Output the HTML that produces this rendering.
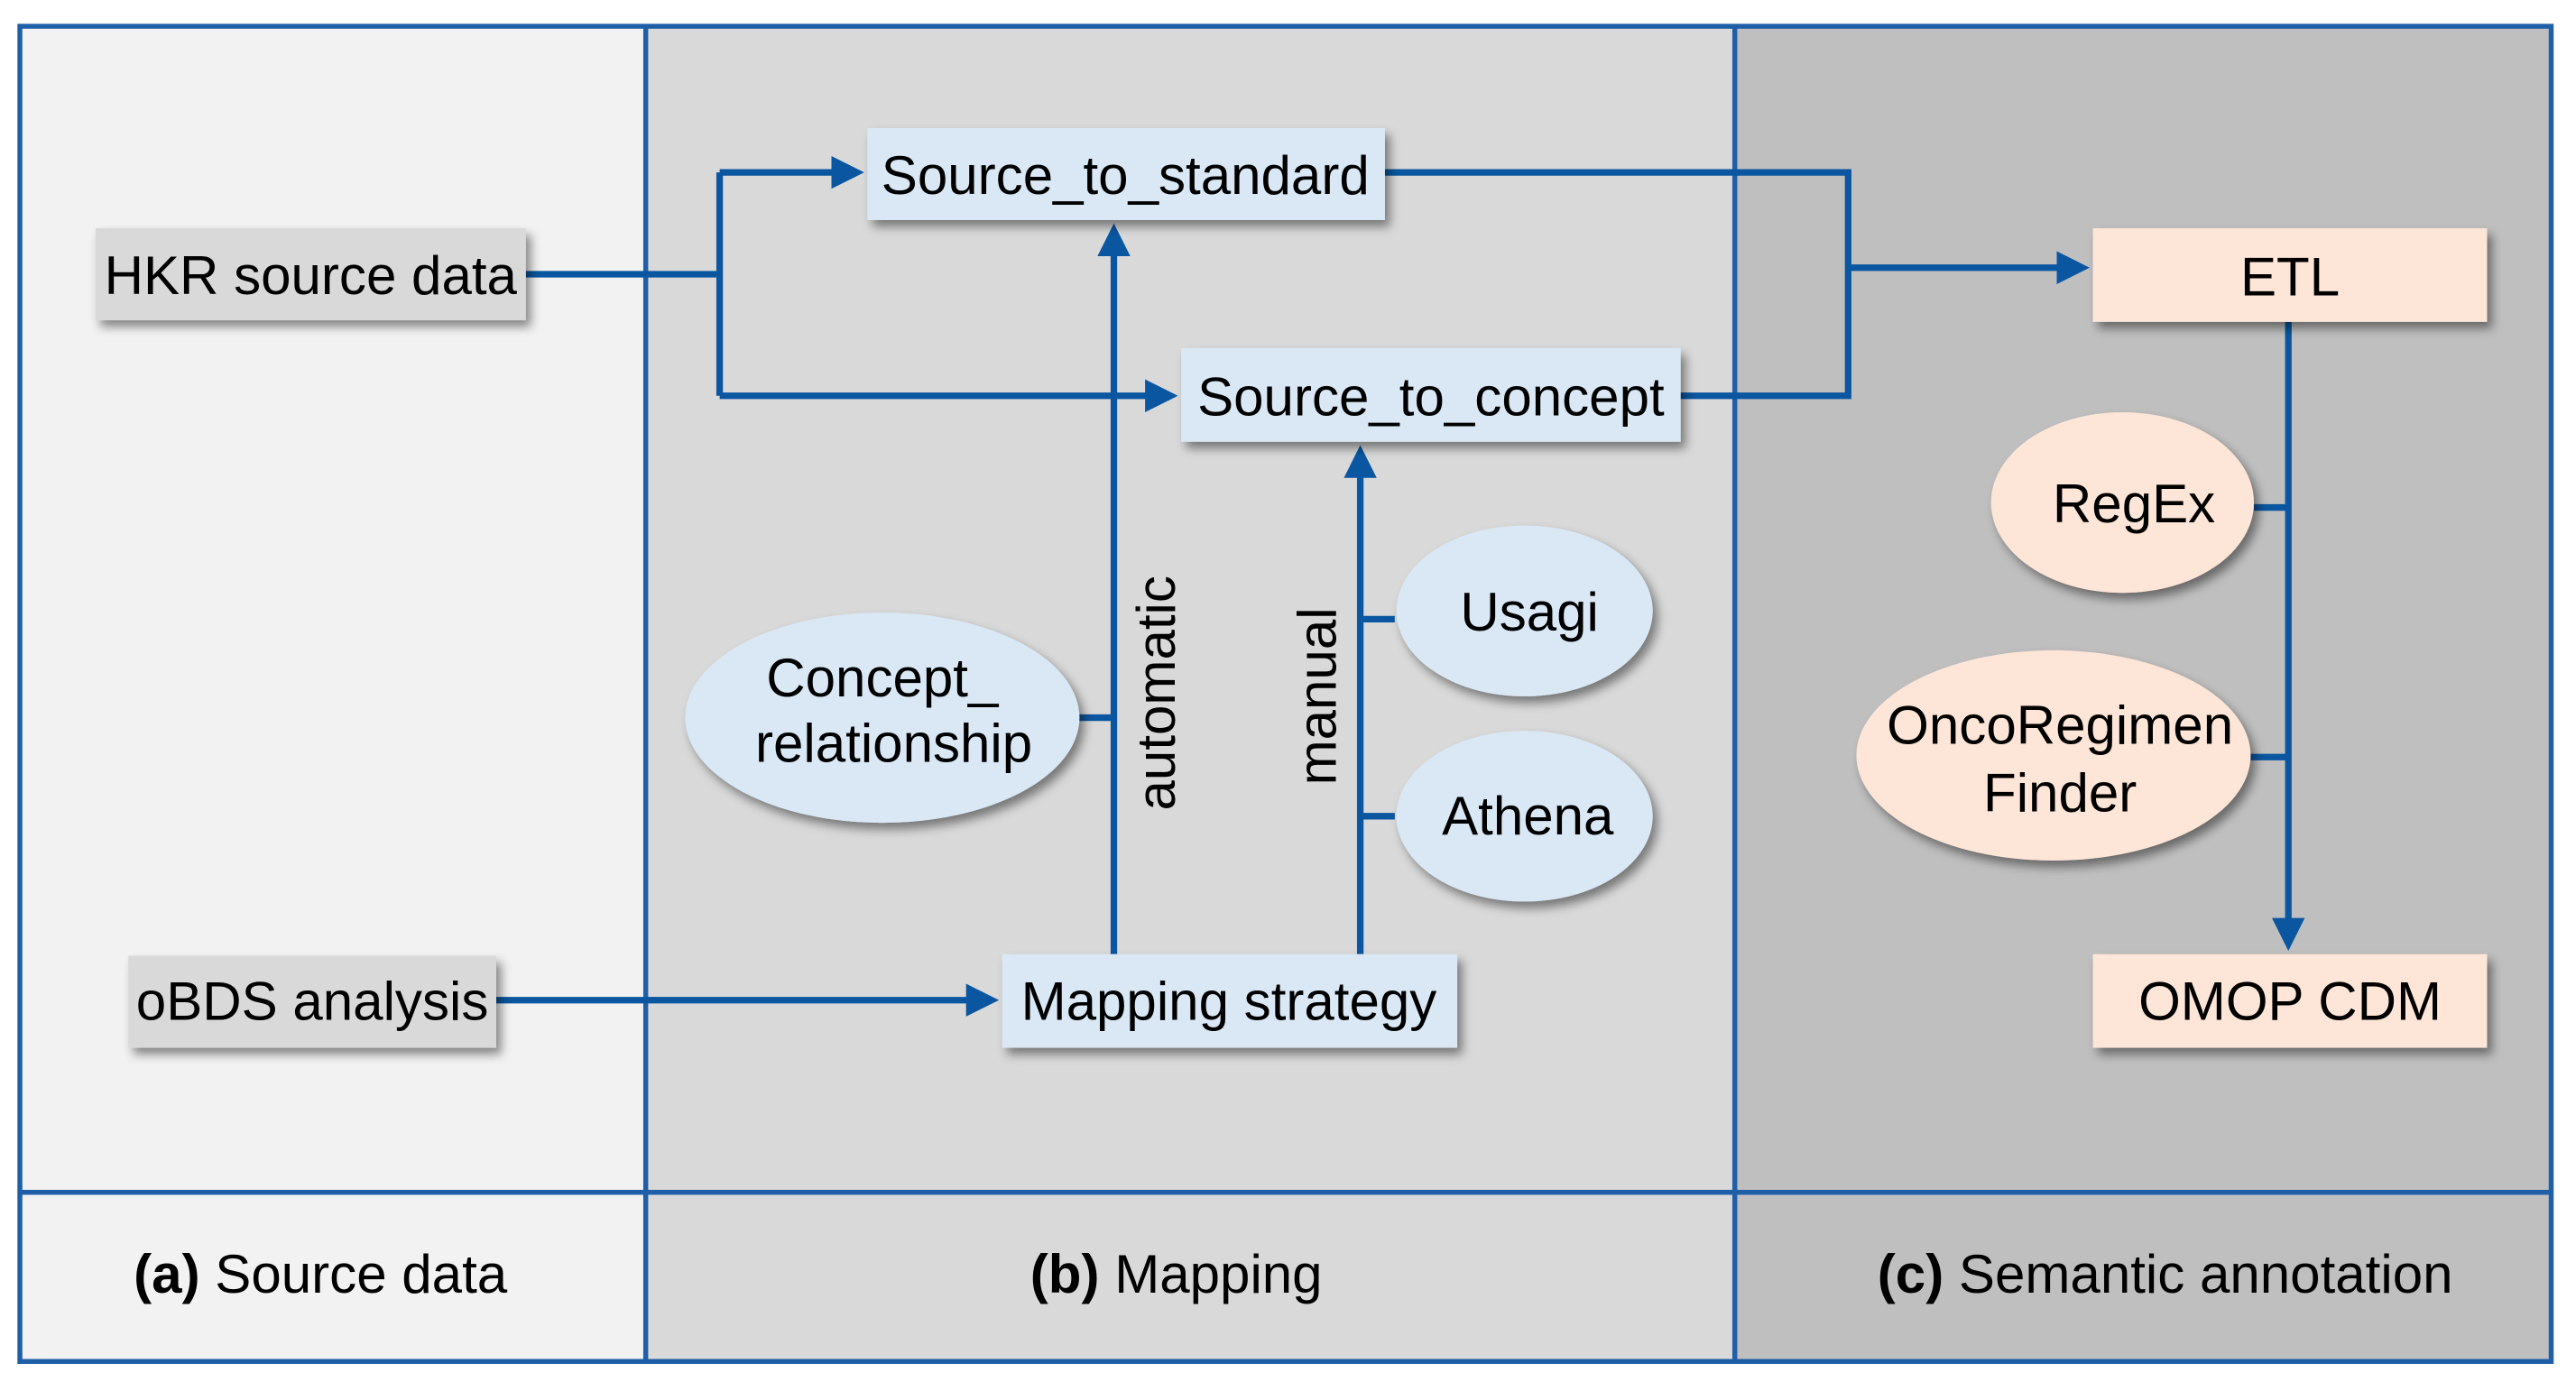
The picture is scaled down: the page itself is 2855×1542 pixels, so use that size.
<!DOCTYPE html>
<html><head><meta charset="utf-8"><style>
html,body{margin:0;padding:0;background:#fff;}
svg{display:block;}
text{font-family:"Liberation Sans",Arial,sans-serif;fill:#000;}
</style></head><body>
<svg width="2855" height="1542" viewBox="0 0 1568 847" xmlns="http://www.w3.org/2000/svg">
<defs>
<filter id="sh" x="-20%" y="-20%" width="150%" height="160%">
<feDropShadow dx="3" dy="4" stdDeviation="3" flood-color="#000" flood-opacity="0.45"/>
</filter>
<marker id="ar" markerWidth="5" markerHeight="5" refX="4" refY="2.5" orient="auto" markerUnits="strokeWidth">
<path d="M0,0 L5,2.5 L0,5 z" fill="#0a56a0"/>
</marker>
</defs>
<rect x="0" y="0" width="1568" height="847" fill="#fff"/>
<rect x="12" y="16" width="381" height="813" fill="#f2f2f2"/>
<rect x="393" y="16" width="663" height="813" fill="#d9d9d9"/>
<rect x="1056" y="16" width="497" height="813" fill="#bfbfbf"/>
<g stroke="#1f5fa8" stroke-width="3" fill="none">
<rect x="12" y="16" width="1541" height="813"/>
<line x1="393" y1="16" x2="393" y2="829"/>
<line x1="1056" y1="16" x2="1056" y2="829"/>
<line x1="12" y1="726" x2="1553" y2="726"/>
</g>

<g stroke="#0a56a0" stroke-width="4" fill="none">
<polyline points="320,167 438,167"/>
<polyline points="438,105 438,241"/>
<polyline points="438,105 522,105" marker-end="url(#ar)"/>
<polyline points="438,241 713,241" marker-end="url(#ar)"/>
<polyline points="843,105 1125,105 1125,241 1023,241"/>
<polyline points="1125,163 1268,163" marker-end="url(#ar)"/>
<polyline points="1393,196 1393,575" marker-end="url(#ar)"/>
<polyline points="1372,309 1393,309"/>
<polyline points="1370,461 1393,461"/>
<polyline points="302,609 604,609" marker-end="url(#ar)"/>
<polyline points="678,581 678,140" marker-end="url(#ar)"/>
<polyline points="828,581 828,275" marker-end="url(#ar)"/>
<polyline points="657,437 678,437"/>
<polyline points="849,377 828,377"/>
<polyline points="849,497 828,497"/>
</g>

<g filter="url(#sh)">
<rect x="58" y="139" width="262" height="56" fill="#d9d9d9"/>
<rect x="78" y="582" width="224" height="56" fill="#d9d9d9"/>
<rect x="528" y="78" width="315" height="56" fill="#dae8f5"/>
<rect x="719" y="212" width="304" height="57" fill="#dae8f5"/>
<rect x="610" y="581" width="277" height="57" fill="#dae8f5"/>
<rect x="1274" y="139" width="240" height="57" fill="#fde5d7"/>
<rect x="1274" y="581" width="240" height="57" fill="#fde5d7"/>
<ellipse cx="537" cy="437" rx="120" ry="64" fill="#dae8f5"/>
<ellipse cx="928" cy="372" rx="78" ry="52" fill="#dae8f5"/>
<ellipse cx="928" cy="497" rx="78" ry="52" fill="#dae8f5"/>
<ellipse cx="1292" cy="306" rx="80" ry="55" fill="#fde5d7"/>
<ellipse cx="1250" cy="460" rx="120" ry="64" fill="#fde5d7"/>
</g>

<g font-size="33" text-anchor="middle">
<text x="189" y="179">HKR source data</text>
<text x="190" y="621">oBDS analysis</text>
<text x="685" y="118">Source_to_standard</text>
<text x="871" y="253">Source_to_concept</text>
<text x="748" y="621">Mapping strategy</text>
<text x="1394" y="180">ETL</text>
<text x="1394" y="621">OMOP CDM</text>
<text x="537" y="424">Concept_</text>
<text x="544" y="464">relationship</text>
<text x="931" y="384">Usagi</text>
<text x="930" y="508">Athena</text>
<text x="1299" y="318">RegEx</text>
<text x="1254" y="453">OncoRegimen</text>
<text x="1254" y="494">Finder</text>
<text transform="translate(715,422) rotate(-90)">automatic</text>
<text transform="translate(813,424) rotate(-90)">manual</text>
<text x="195" y="787"><tspan font-weight="bold">(a)</tspan> Source data</text>
<text x="716" y="787"><tspan font-weight="bold">(b)</tspan> Mapping</text>
<text x="1318" y="787"><tspan font-weight="bold">(c)</tspan> Semantic annotation</text>
</g>
</svg>
</body></html>
